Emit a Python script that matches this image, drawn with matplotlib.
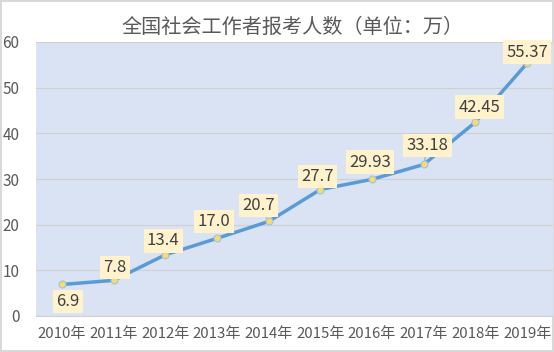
import matplotlib
matplotlib.use("Agg")
from matplotlib import pyplot as plt

plt.rcParams['font.family'] = ['Noto Sans CJK SC', 'DejaVu Sans']

years = ['2010年', '2011年', '2012年', '2013年', '2014年',
         '2015年', '2016年', '2017年', '2018年', '2019年']
counts = [6.9, 7.8, 13.4, 17.0, 20.7, 27.7, 29.93, 33.18, 42.45, 55.37]
count_labels = ['6.9', '7.8', '13.4', '17.0', '20.7',
                '27.7', '29.93', '33.18', '42.45', '55.37']

# label offsets in pixels (dx, dy), y up
offsets = [(6, -17), (1, 13), (-2, 14), (-3, 17), (-10, 16),
           (-3, 13), (-2, 17), (4, 19), (4, 15), (0, 11)]
leader = [False, False, False, False, True, False, False, True, False, False]

fig = plt.figure(figsize=(5.54, 3.52), dpi=100)
fig.patch.set_facecolor('white')
fig.patch.set_edgecolor('#D9D9D9')
fig.patch.set_linewidth(1.5)

ax = fig.add_axes([36 / 554, 1 - 316 / 352, 517 / 554, 274 / 352])
ax.set_facecolor('#DAE3F3')

x = list(range(len(years)))
ax.plot(x, counts, color='#5B9BD5', linewidth=2.5, zorder=3,
        marker='o', markersize=5, markerfacecolor='#FFD966',
        markeredgecolor='#9DC3E6', markeredgewidth=0.8)

for i in range(len(counts)):
    dx, dy = offsets[i]
    props = None
    if leader[i]:
        props = dict(arrowstyle='-', color='#A6A6A6', lw=0.8,
                     shrinkA=0, shrinkB=3)
    ax.annotate(count_labels[i], (x[i], counts[i]),
                xytext=(dx * 0.72, dy * 0.72), textcoords='offset points',
                ha='center', va='center', fontsize=12, color='#404040',
                bbox=dict(boxstyle='square,pad=0.2', fc='#FFF2CC', ec='none'),
                arrowprops=props, zorder=4, annotation_clip=False)

ax.set_xlim(-0.5, 9.5)
ax.set_ylim(0, 60)
ax.set_yticks([0, 10, 20, 30, 40, 50, 60])
ax.set_xticks(x)
ax.set_xticklabels(years)
ax.grid(True, axis='y', color='#D0D0D0', linewidth=0.8)
ax.set_axisbelow(True)
for side in ['top', 'right', 'left']:
    ax.spines[side].set_visible(False)
ax.spines['bottom'].set_color('#D0D0D0')
ax.tick_params(axis='both', length=0, colors='#595959')
ax.tick_params(axis='x', pad=8, labelsize=10.8)
ax.tick_params(axis='y', pad=12, labelsize=11)

fig.text(293 / 554, 1 - 27 / 352, '全国社会工作者报考人数（单位：万）',
         ha='center', va='center', fontsize=14.5, color='#595959')

fig.savefig('out.png', dpi=100, facecolor=fig.get_facecolor(),
            edgecolor=fig.get_edgecolor())
